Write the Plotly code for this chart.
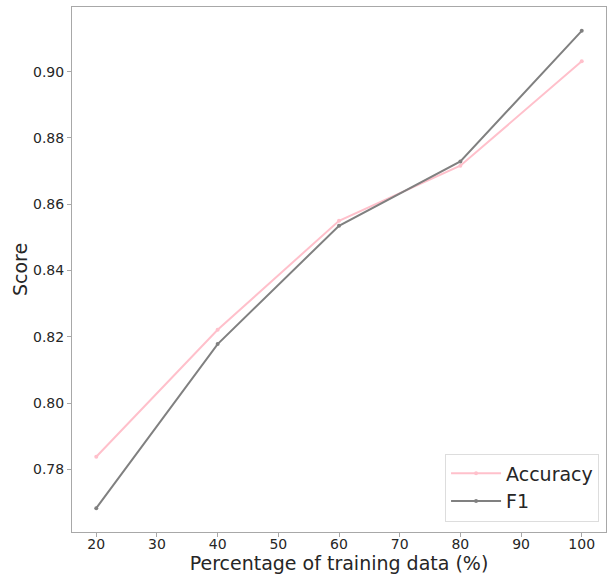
import plotly.graph_objects as go

percent = [20, 40, 60, 80, 100]
accuracy = [0.7838, 0.8221, 0.8550, 0.8716, 0.9031]
f1 = [0.7683, 0.8178, 0.8535, 0.8729, 0.9123]
y_ticks = [0.78, 0.80, 0.82, 0.84, 0.86, 0.88, 0.90]
x_ticks = [20, 30, 40, 50, 60, 70, 80, 90, 100]

FONT = "DejaVu Sans"

fig = go.Figure()
fig.add_trace(go.Scatter(x=percent, y=accuracy, mode="lines+markers", name="Accuracy",
                         line=dict(color="#ffc0cb", width=2), marker=dict(size=4, color="#ffc0cb")))
fig.add_trace(go.Scatter(x=percent, y=f1, mode="lines+markers", name="F1",
                         line=dict(color="#808080", width=2), marker=dict(size=4, color="#808080")))

axis_common = dict(showgrid=False, zeroline=False, showline=True, linecolor="#a8a8a8", linewidth=1,
                   mirror=True, ticks="outside", ticklen=4, tickcolor="#a8a8a8", automargin=False,
                   tickfont=dict(family=FONT, size=14, color="#262626"))

fig.update_xaxes(range=[16, 104], tickvals=x_ticks, ticktext=[str(v) for v in x_ticks],
                 ticklabelstandoff=-5,
                 title=dict(text="Percentage of training data (%)", font=dict(family=FONT, size=19, color="#262626"),
                            standoff=2),
                 **axis_common)
fig.update_yaxes(range=[0.7611, 0.9195], tickvals=y_ticks, ticktext=[f"{v:.2f}" for v in y_ticks],
                 title=dict(text="Score", font=dict(family=FONT, size=19, color="#262626"), standoff=0),
                 **axis_common)

fig.update_layout(width=609, height=574, margin=dict(l=72, r=3, t=7, b=42),
                  plot_bgcolor="white", paper_bgcolor="white",
                  font=dict(family=FONT),
                  legend=dict(x=0.987, y=0.02, xanchor="right", yanchor="bottom",
                              bgcolor="rgba(255,255,255,0.8)", bordercolor="#dddddd", borderwidth=1,
                              itemwidth=50,
                              font=dict(family=FONT, size=19, color="#262626")),
                  showlegend=True)

fig.write_html("out.html", config={"displayModeBar": False},
               post_script="document.body.style.margin='0';document.body.style.overflow='hidden';")
